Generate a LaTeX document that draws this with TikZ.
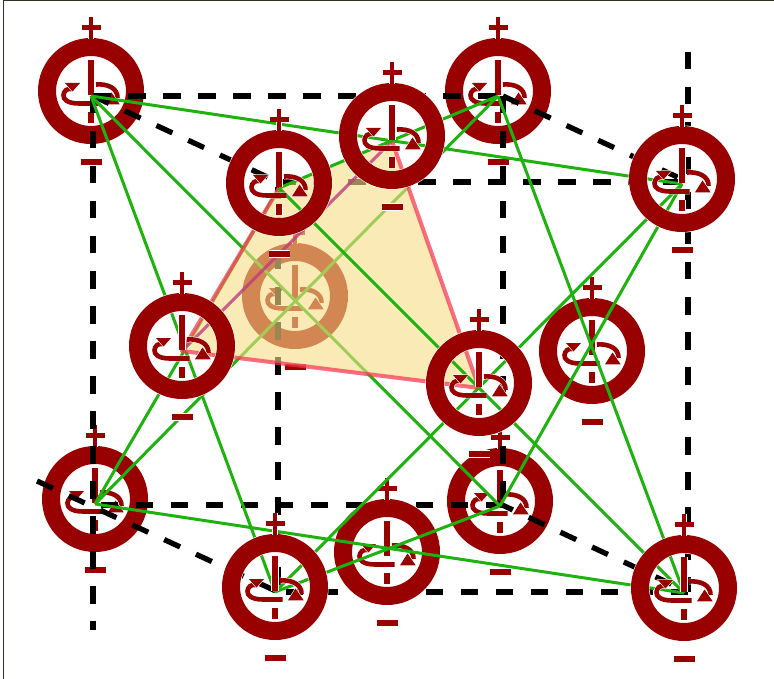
\documentclass[tikz,border=0pt]{standalone}
\definecolor{atomred}{RGB}{153,0,0}
\definecolor{bondgreen}{RGB}{30,178,15}
\definecolor{planeyellow}{RGB}{247,222,135}
\definecolor{edgepink}{RGB}{248,48,77}
\definecolor{edgemagenta}{RGB}{190,60,125}
\definecolor{framedark}{RGB}{50,50,30}
\tikzset{
  hstroke/.style={draw=atomred,line width=#1,preaction={draw=white,line width=#1+1.2pt}},
  htri/.style={fill=atomred,preaction={draw=white,line width=1.2pt,fill=white}},
  cubeline/.style={draw=black,line width=5.3pt,dash pattern=on 17.5pt off 17.5pt},
  bond/.style={draw=bondgreen,line width=3pt},
  atom/.pic={
    \begin{scope}[shift={(0,-5)}]
      \path[hstroke=18pt] (0,0) circle (44pt);
      \path[hstroke=6pt] (0,-31) -- (0,4);
      \path[hstroke=6pt] (0,21) -- (0,32);
      \path[hstroke=4.6pt] (7.5,12.5) -- (-12,12.5) .. controls (-24,12.5) and (-28,8) .. (-27.5,4) .. controls (-27,0) and (-24,-3) .. (-19,-2);
      \path[hstroke=4.6pt] (5,-6.5) .. controls (16,-7.5) and (27,-3) .. (26.5,7);
      \path[htri] (-26,-8) -- (-11,-8) -- (-18.5,0.5) -- cycle;
      \path[htri] (20.5,1.5) -- (13,13.3) -- (28.7,13.3) -- cycle;
      \path[draw=white,line width=6pt] (0,-74) -- (0,-52) (-9.5,-63.5) -- (9.5,-63.5);
      \path[draw=atomred,line width=4.8pt] (0,-74) -- (0,-52) (-9.5,-63.5) -- (9.5,-63.5);
      \path[hstroke=6pt] (-10.5,71) -- (10.5,71);
    \end{scope}
  }
}
\begin{document}
\begin{tikzpicture}[x=1pt,y=-1pt]
\useasboundingbox (0,0) rectangle (774,679);
\fill[white] (0,0) rectangle (774,679);
% atom anchors (bond ends)
\coordinate (a) at (91,96);
\coordinate (b) at (498,96);
\coordinate (c) at (279,188);
\coordinate (d) at (392,141);
\coordinate (e) at (682,184);
\coordinate (f) at (295,301);
\coordinate (g) at (182,351);
\coordinate (h) at (479,388);
\coordinate (i) at (592,356);
\coordinate (j) at (95,504);
\coordinate (k) at (500,506);
\coordinate (l) at (275,592);
\coordinate (m) at (387,557);
\coordinate (n) at (684,593);
% cube corners and free ends
\coordinate (c1) at (93,96);
\coordinate (c2) at (503,96);
\coordinate (c3) at (278,182);
\coordinate (c4) at (688,182);
\coordinate (c5) at (93,505);
\coordinate (c6) at (503,505);
\coordinate (c7) at (278,592);
\coordinate (c8) at (688,592);
\coordinate (t1) at (93,630);
\coordinate (t2) at (688,52);
\coordinate (t3) at (37,481);
\coordinate (t4) at (497,502.5);
% frame
\coordinate (f0) at (3,679);
\coordinate (f1) at (3,1);
\coordinate (f2) at (774,1);
\draw[framedark,line width=1pt] (f0) -- (f1) -- (f2);
% back atoms
\pic at (a) {atom};
\pic at (b) {atom};
\pic at (j) {atom};
\pic at (k) {atom};
\pic at (f) {atom};
% cube
\path[cubeline] (c1) -- (c2);
\path[cubeline] (c3) -- (c4);
\path[cubeline] (c6) -- (c5);
\path[cubeline] (c8) -- (c7);
\path[cubeline] (c1) -- (t1);
\path[cubeline] (c2) -- (c6);
\path[cubeline] (c3) -- (c7);
\path[cubeline] (t2) -- (c8);
\path[cubeline] (c1) -- (c3);
\path[cubeline] (c2) -- (c4);
\path[cubeline] (t3) -- (c7);
\path[cubeline] (t4) -- (c8);
% mid atoms
\pic at (m) {atom};
\pic at (i) {atom};
% bonds
\path[bond] (a) -- (e);
\path[bond] (a) -- (l);
\path[bond] (a) -- (k);
\path[bond] (j) -- (b);
\path[bond] (j) -- (c);
\path[bond] (j) -- (n);
\path[bond] (l) -- (k);
\path[bond] (l) -- (e);
\path[bond] (b) -- (n);
\path[bond] (k) -- (e);
% plane
\fill[planeyellow,fill opacity=.61] (g.center) -- (c.center) -- (d.center) -- (h.center) -- cycle;
\draw[edgepink,line width=4pt,opacity=.7,line join=round] (c) -- (g) -- (h) -- (d);
\draw[edgemagenta,line width=3pt,opacity=.8] (g) -- (d);
\path[bond] (c) -- (n);
\path[bond] (c) -- (b);
% front atoms
\pic at (c) {atom};
\pic at (d) {atom};
\pic at (e) {atom};
\pic at (g) {atom};
\pic at (l) {atom};
\pic at (n) {atom};
\pic at (h) {atom};
\end{tikzpicture}
\end{document}
